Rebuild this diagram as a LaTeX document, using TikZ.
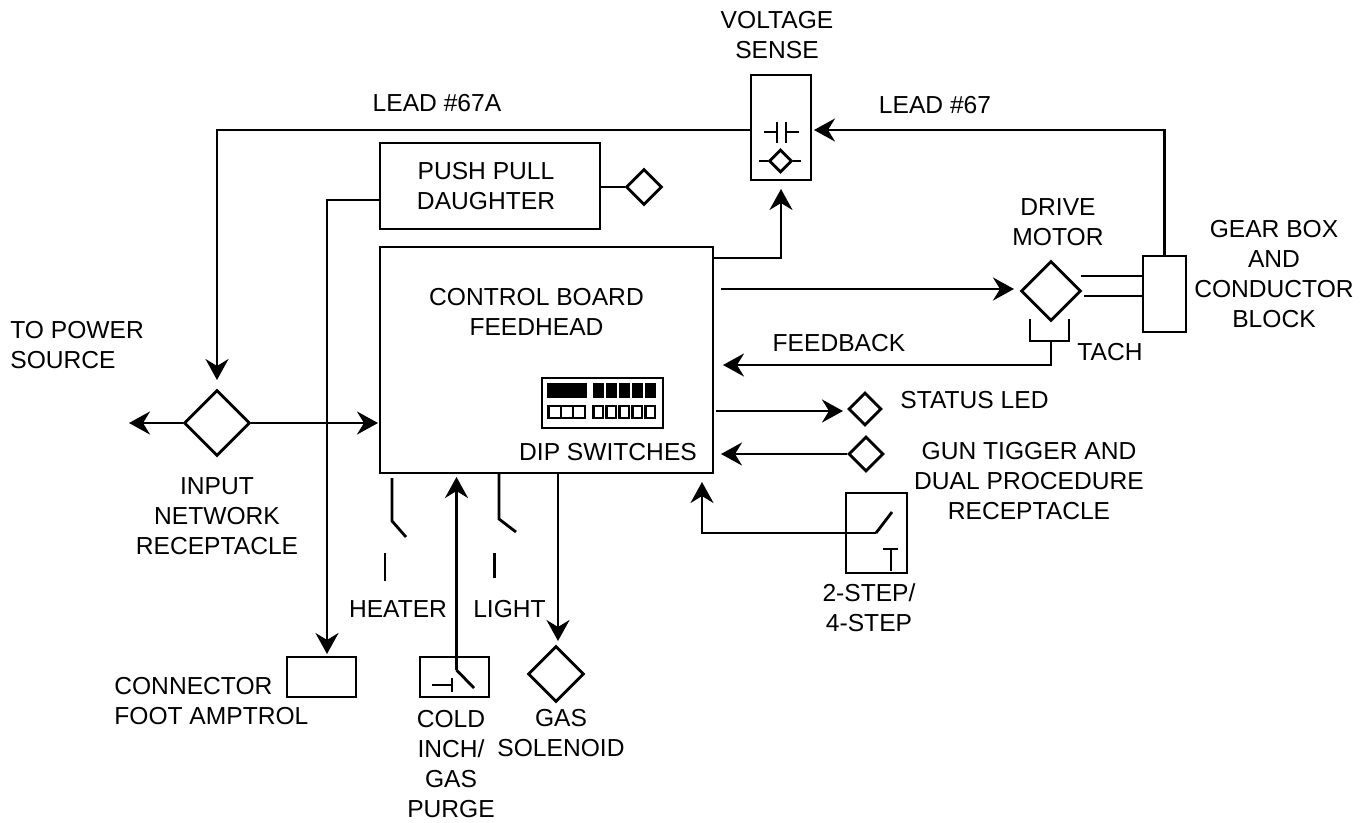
\documentclass[tikz,border=0pt]{standalone}
\usepackage{fontspec}
\setmainfont{Liberation Sans}
\usetikzlibrary{arrows.meta,shapes.geometric}
\tikzset{
  wire/.style={line width=1.6pt},
  arr/.style={wire,-{Stealth[length=0.42cm,width=0.46cm,inset=0.14cm]}},
  lbl/.style={align=center,inner sep=0pt,font=\fontsize{14}{17}\selectfont},
  box/.style={draw,line width=1.6pt,inner sep=0pt,minimum width=#1},
  dia/.style={draw,diamond,line width=1.6pt,inner sep=0pt,minimum width=#1,minimum height=#1}
}
\begin{document}
\begin{tikzpicture}[x=0.02cm,y=-0.02cm,line cap=butt]
  \useasboundingbox (0,0) rectangle (1369,822);
  % boxes
  \node[box=1.2cm,minimum height=2.1cm] (sense) at (781,127.5) {};
  \node[box=4.4cm,minimum height=1.72cm] (push) at (490,186) {};
  \node[box=6.66cm,minimum height=4.52cm] (board) at (546.5,360) {};
  \node[box=0.86cm,minimum height=1.52cm] (gear) at (1164.5,294) {};
  \node[box=1.22cm,minimum height=1.6cm] (step) at (876.5,533) {};
  \node[box=1.38cm,minimum height=0.8cm] (foot) at (321.5,677) {};
  \node[box=1.38cm,minimum height=0.8cm] (cold) at (454.5,677) {};
  \node[dia=0.72cm] (pushled) at (644,187) {};
  \node[dia=1.2cm] (motor) at (1051,291) {};
  \node[dia=0.66cm] (status) at (865,409) {};
  \node[dia=0.7cm] (gun) at (866,454) {};
  \node[dia=1.32cm] (input) at (217,423) {};
  \node[dia=1.12cm] (gas) at (556,674) {};
  % free ends
  \coordinate (senseIn) at (814,130);
  \coordinate (senseOut) at (750,130);
  \coordinate (inputTop) at (217,380);
  \coordinate (boardR) at (713,258);
  \coordinate (senseBot) at (781,189);
  \coordinate (motorIn) at (1014,289);
  \coordinate (boardOut) at (721,289);
  \coordinate (fbIn) at (723,365);
  \coordinate (statusOut) at (716,411);
  \coordinate (statusIn) at (843,411);
  \coordinate (gunIn) at (721,454);
  \coordinate (stepUp) at (702,482);
  \coordinate (stepPivot) at (876,533);
  \coordinate (powerEnd) at (129,423);
  \coordinate (boardL) at (378,423);
  \coordinate (footIn) at (327,654);
  \coordinate (coldPivot) at (456.5,670);
  \coordinate (coldUp) at (456.5,477);
  \coordinate (gasStart) at (558,473);
  \coordinate (gasIn) at (558,641);
  \coordinate (tachL) at (1030,319);
  \coordinate (tachR) at (1069,319);
  % connectors
  \draw[arr] (gear.north) -- (gear.north |- senseIn) -- (senseIn);
  \draw[arr] (senseOut) -- (inputTop |- senseOut) -- (inputTop);
  \draw[wire] (push.east |- pushled) -- (pushled.west);
  \draw[arr] (push.west |- 0,200) -- (327,200) -- (footIn);
  \draw[arr] (boardR) -- (781,258) -- (senseBot);
  \draw[arr] (boardOut) -- (motorIn);
  \draw[wire] (1081,276) -- (1143,276);
  \draw[wire] (1084,296) -- (1143,296);
  \draw[wire] (tachL) -- (1030,341) -- (1069,341) -- (tachR);
  \draw[arr] (1051,341) -- (1051,365) -- (fbIn);
  \draw[arr] (statusOut) -- (statusIn);
  \draw[arr] (gun.west) -- (gunIn);
  \draw[arr] (stepPivot) -- (702,533) -- (stepUp);
  \draw[arr] (input.west) -- (powerEnd);
  \draw[arr] (input.east) -- (boardL);
  \draw[arr] (coldPivot) -- (coldUp);
  \draw[arr] (gasStart) -- (gasIn);
  % contacts
  \draw[wire] (stepPivot) -- (892,512);
  \draw[wire] (coldPivot) -- (474,688);
  \draw[wire] (392,478) -- (392,521) -- (406,537);
  \draw[wire] (385,553) -- (385,581);
  \draw[wire] (499,473) -- (499,519) -- (516,532);
  \draw[wire] (494.5,553) -- (494.5,578);
  \draw[wire] (432,685) -- (452,685) (452,678) -- (452,692);
  \draw[wire] (883,549) -- (898,549) (891,549) -- (891,571);
  % voltage sense symbols
  \draw[wire] (764,132) -- (777,132) (777,122) -- (777,143);
  \draw[wire] (786,122) -- (786,143) (786,132) -- (799,132);
  \node[dia=0.46cm] (sensedia) at (780.5,161) {};
  \draw[wire] (759,161) -- (sensedia.west) (sensedia.east) -- (801,161);
  % dip switches
  \draw[wire] (542,378) rectangle (663,428);
  \fill (547,383) rectangle (587,398);
  \foreach \i in {0,...,4}
    \fill (592.5+13*\i,383) rectangle +(11.5,15);
  \draw[line width=1.2pt] (548.5,406) rectangle (585,418);
  \foreach \i in {1,2}
    \draw[line width=1.2pt] (548.5+12.2*\i,406) -- (548.5+12.2*\i,418);
  \foreach \i in {0,...,4}
    \draw[line width=1.2pt] (593.5+13*\i,406) rectangle +(9.5,12);
  % labels
  \node[lbl] (lsense) at (777,35) {VOLTAGE\\SENSE};
  \node[lbl] (l67a) at (437,103) {LEAD \#67A};
  \node[lbl] (l67) at (935,105) {LEAD \#67};
  \node[lbl] (lpush) at (486,186) {PUSH PULL\\DAUGHTER};
  \node[lbl] (lboard) at (536.5,312) {CONTROL BOARD\\FEEDHEAD};
  \node[lbl] (lmotor) at (1058,222) {DRIVE\\MOTOR};
  \node[lbl] (lgear) at (1274,274) {GEAR BOX\\AND\\CONDUCTOR\\BLOCK};
  \node[lbl] (ltach) at (1110,352) {TACH};
  \node[lbl] (lfb) at (839,343) {FEEDBACK};
  \node[lbl] (lstatus) at (974.5,400) {STATUS LED};
  \node[lbl] (lgun) at (1029,481) {GUN TIGGER AND\\DUAL PROCEDURE\\RECEPTACLE};
  \node[lbl,align=left,anchor=west] (lpower) at (10,345) {TO POWER\\SOURCE};
  \node[lbl] (linput) at (217,516) {INPUT\\NETWORK\\RECEPTACLE};
  \node[lbl] (ldip) at (608,452) {DIP SWITCHES};
  \node[lbl] (lheater) at (398,609) {HEATER};
  \node[lbl] (llight) at (509.5,609) {LIGHT};
  \node[lbl] (lstep) at (869,608) {2-STEP/\\4-STEP};
  \node[lbl,align=left,anchor=west] (lfoot) at (114,701) {CONNECTOR\\FOOT AMPTROL};
  \node[lbl] (lcold) at (451,764) {COLD\\INCH/\\GAS\\PURGE};
  \node[lbl] (lgas) at (561,733) {GAS\\SOLENOID};
\end{tikzpicture}
\end{document}
